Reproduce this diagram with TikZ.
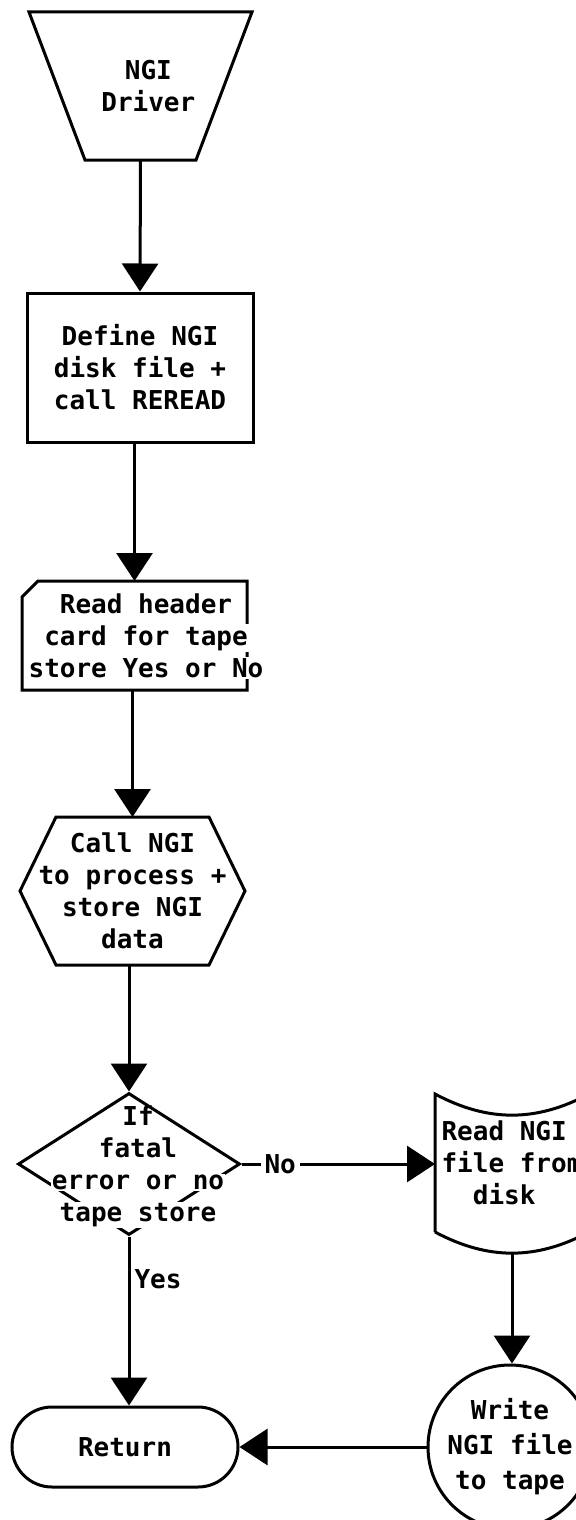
\documentclass[tikz,border=0pt]{standalone}
\usepackage{fontspec}
\setmainfont{DejaVu Sans Mono}
\usetikzlibrary{arrows.meta,shapes.geometric,shapes.misc}
\newcommand{\wbox}[1]{{\setlength{\fboxsep}{0.5pt}\colorbox{white}{#1}}}
\begin{document}
\begin{tikzpicture}[x=0.5pt,y=-0.5pt,line width=1.5pt,
  font=\fontsize{13}{16}\selectfont\bfseries,
  plain/.style={draw=none,inner sep=0pt,outer sep=0pt,align=center},
  arr/.style={-{Triangle[length=14pt,width=18pt]}},
  lbl/.style={fill=white,inner xsep=2pt,inner ysep=1pt}]
\useasboundingbox (0,0) rectangle (576,1520);
\clip (0,0) rectangle (576,1520);

% start trapezoid
\node[plain,minimum width=111.5pt,minimum height=74pt] (drv) at (140.5,86) {\hphantom{x}NGI\\\hphantom{x}Driver};
\draw (drv.north west) -- (drv.north east) -- ([xshift=-28pt]drv.south east) -- ([xshift=28pt]drv.south west) -- cycle;

% process box
\node[draw,minimum width=113pt,minimum height=74.5pt,inner sep=0pt,align=center] (def) at (140,367.5) {Define NGI\\disk file +\\call REREAD};

% card
\node[plain,minimum width=112.5pt,minimum height=54.5pt] (card) at (134.5,635.5) {};
\draw ([yshift=-8pt]card.north west) -- ([xshift=8pt]card.north west) -- (card.north east) -- (card.south east) -- (card.south west) -- cycle;
\node[align=center,inner sep=0pt] (cardtxt) at (146,636) {Read header\\\wbox{card for tape}\\\wbox{store Yes or No}};

% hexagon
\node[plain,minimum width=112.5pt,minimum height=74pt] (hex) at (132.5,891) {Call NGI\\to process +\\store NGI\\data};
\draw ([xshift=18pt]hex.north west) -- ([xshift=-18pt]hex.north east) -- (hex.east) -- ([xshift=-18pt]hex.south east) -- ([xshift=18pt]hex.south west) -- (hex.west) -- cycle;

% decision
\node[diamond,draw,minimum width=111pt,minimum height=71pt,inner sep=0pt] (dec) at (129,1164) {};
\node[align=center,inner sep=0pt] (dect) at (138,1167) {If\\fatal\\\wbox{error or no}\\\wbox{tape store}};

% read from disk
\node[plain,minimum width=77pt,minimum height=69pt,align=left] (rd) at (512,1163) {Read NGI\\file from\\\hphantom{xx}disk};
\draw (rd.south west) -- (rd.north west) to[bend right=28] (rd.north east) -- (rd.south east) to[bend left=28] (rd.south west);
\coordinate (rdb) at ([yshift=-10pt]rd.south);

% write to tape
\node[circle,draw,minimum size=82pt,inner sep=0pt,align=center] (wr) at (510,1447) {Write\\[1.5pt]NGI file\\[1.5pt]to tape};

% return
\node[rounded rectangle,draw,minimum width=113pt,minimum height=40pt,inner sep=0pt] (ret) at (125,1447) {Return};

% connectors
\draw[arr] (drv.south) -- (def.north);
\draw[arr] (def.south -| card.north) -- (card.north);
\draw[arr] (card.south -| hex.north) -- (hex.north);
\draw[arr] (hex.south -| dec.north) -- (dec.north);
\draw[arr] (dec.east) -- node[lbl,pos=0.2] (nolbl) {No} (dec.east -| rd.west);
\draw[arr] (dec.south) -- node[right=2pt,pos=0.25,inner sep=0pt] (yeslbl) {Yes} (dec.south |- ret.north);
\draw[arr] (rdb) -- (rdb |- wr.north);
\draw[arr] (wr.west) -- (ret.east);
\end{tikzpicture}
\end{document}
